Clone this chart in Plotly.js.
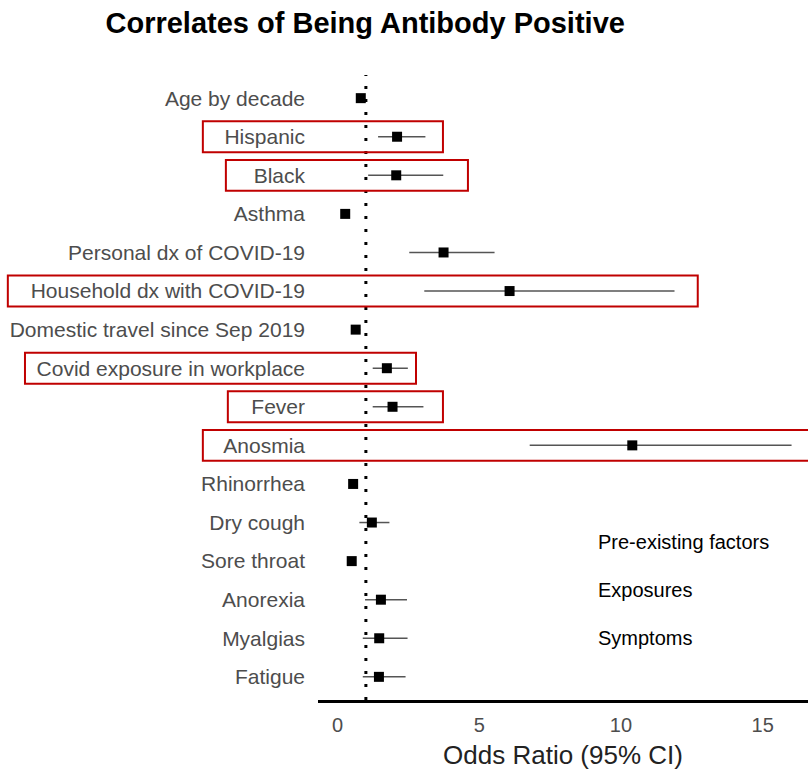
<!DOCTYPE html>
<html>
<head>
<meta charset="utf-8">
<script src="https://cdn.plot.ly/plotly-3.0.1.min.js"></script>
<style>html,body{margin:0;padding:0;background:#fff;}#chart{width:808px;height:773px;}</style>
</head>
<body>
<div id="chart"></div>
<script>
const categories = ["Age by decade","Hispanic","Black","Asthma","Personal dx of COVID-19","Household dx with COVID-19","Domestic travel since Sep 2019","Covid exposure in workplace","Fever","Anosmia","Rhinorrhea","Dry cough","Sore throat","Anorexia","Myalgias","Fatigue"];
const oddsRatio = [0.82, 2.1, 2.07, 0.27, 3.74, 6.07, 0.64, 1.74, 1.94, 10.4, 0.55, 1.21, 0.5, 1.53, 1.47, 1.46];
const ciLow =     [0.75, 1.43, 1.08, 0.22, 2.53, 3.06, 0.48, 1.24, 1.24, 6.78, 0.48, 0.77, 0.44, 0.97, 0.89, 0.89];
const ciHigh =    [0.9, 3.1, 3.73, 0.33, 5.54, 11.89, 0.8, 2.48, 3.03, 16.02, 0.62, 1.83, 0.6, 2.45, 2.47, 2.4];
const highlighted = ["Hispanic","Black","Household dx with COVID-19","Covid exposure in workplace","Fever","Anosmia"];
const legendLabels = ["Pre-existing factors","Exposures","Symptoms"];
const referenceOR = 1;

// box extents (paper x) for highlighted rows
const boxLeft = {"Hispanic":-0.235,"Black":-0.188,"Household dx with COVID-19":-0.633,"Covid exposure in workplace":-0.598,"Fever":-0.184,"Anosmia":-0.235};
const boxRight = {"Hispanic":0.255,"Black":0.306,"Household dx with COVID-19":0.775,"Covid exposure in workplace":0.2,"Fever":0.255,"Anosmia":1.05};

const trace = {
  type: 'scatter', mode: 'markers',
  x: oddsRatio, y: categories,
  marker: {symbol: 'square', size: 10, color: '#000'},
  error_x: {type: 'data', symmetric: false,
    array: oddsRatio.map((v,i)=>ciHigh[i]-v),
    arrayminus: oddsRatio.map((v,i)=>v-ciLow[i]),
    width: 0, thickness: 1.5, color: '#555'},
  cliponaxis: false, hoverinfo: 'skip', showlegend: false
};

const shapes = [{
  type: 'line', xref: 'x', yref: 'paper', x0: referenceOR, x1: referenceOR, y0: 0, y1: 1,
  line: {color: '#000', width: 3, dash: '3px,10px'}, layer: 'below'
}];
highlighted.forEach(c => {
  const i = categories.indexOf(c);
  shapes.push({type: 'rect', xref: 'paper', yref: 'y', x0: boxLeft[c], x1: boxRight[c],
    y0: i - 0.4, y1: i + 0.4, line: {color: '#c00000', width: 2}, fillcolor: 'rgba(0,0,0,0)'});
});

const legendY = [0.253, 0.176, 0.099];
const annotations = legendLabels.map((t,i)=>({
  text: t, xref: 'paper', yref: 'paper', x: 0.567, y: legendY[i], xanchor: 'left', yanchor: 'middle',
  showarrow: false, font: {family: 'Liberation Sans, Arial, sans-serif', size: 20, color: '#000'}
}));

const layout = {
  width: 808, height: 773,
  margin: {l: 318, r: 0, t: 75, b: 73},
  paper_bgcolor: '#fff', plot_bgcolor: '#fff',
  font: {family: 'Liberation Sans, Arial, sans-serif', color: '#4d4d4d'},
  title: {text: '<b>Correlates of Being Antibody Positive</b>', x: 0.452, xanchor: 'center', xref: 'container',
    y: 1 - 23/773, yanchor: 'middle', yref: 'container',
    font: {family: 'Liberation Sans, Arial, sans-serif', size: 29, color: '#000'}},
  xaxis: {range: [-0.69, 16.6], tickvals: [0,5,10,15], ticktext: ['0','5','10','15'],
    showgrid: false, zeroline: false, showline: true, linecolor: '#000', linewidth: 3,
    ticks: '', ticklabelstandoff: 5, tickfont: {size: 20, color: '#4d4d4d'},
    title: {text: 'Odds Ratio (95% CI)', font: {size: 26, color: '#222'}, standoff: 11}},
  yaxis: {type: 'category', categoryorder: 'array', categoryarray: categories,
    range: [15.6, -0.6], showgrid: false, zeroline: false, showline: false, ticks: '',
    ticklabelstandoff: 12, tickfont: {size: 21, color: '#4d4d4d'}},
  shapes: shapes, annotations: annotations, showlegend: false
};

Plotly.newPlot('chart', [trace], layout, {displayModeBar: false, staticPlot: true});
</script>
</body>
</html>
